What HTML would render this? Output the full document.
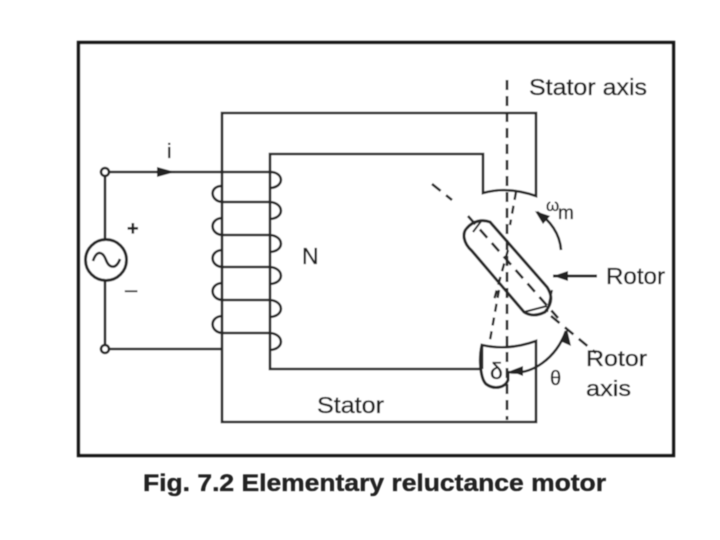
<!DOCTYPE html>
<html><head><meta charset="utf-8"><style>
html,body{margin:0;padding:0;background:#fff;width:720px;height:540px;overflow:hidden}
svg{display:block}
text{font-family:"Liberation Sans",Arial,sans-serif;fill:#222;stroke:#222;stroke-width:.35}
</style></head><body>
<svg width="720" height="540" viewBox="0 0 720 540" xmlns="http://www.w3.org/2000/svg">
<defs><filter id="b" filterUnits="userSpaceOnUse" x="0" y="0" width="720" height="540"><feGaussianBlur stdDeviation="0.6"/></filter></defs>
<rect width="720" height="540" fill="#fff"/>
<g filter="url(#b)">
<rect x="78.5" y="42.5" width="595" height="413" fill="#fff" stroke="#151515" stroke-width="3.4"/>
<g fill="none" stroke="#252525" stroke-width="2.6">
<!-- stator -->
<path d="M222 420V113H536V196Q508 186 483 193V154H270V369H482"/>
<path d="M222 420V422H536V341Q508 351 482 345V369" />
<!-- coil -->
<path d="M105 172H270C284 172 285 187 270 188"/>
<path d="M222 186C209 186 210 201 222 202H270C284 203 285 218 270 219"/>
<path d="M222 218C209 219 210 234 222 235H270C284 236 285 251 270 252"/>
<path d="M222 250C209 251 210 266 222 267H270C284 268 285 283 270 284"/>
<path d="M222 283C209 284 210 299 222 300H270C284 301 285 316 270 317"/>
<path d="M222 316C209 317 210 332 222 333H270C284 334 285 349 270 350"/>
<path d="M105 349H222"/>
<path d="M105 177V240M105 281V344"/>
<circle cx="105" cy="172" r="4" fill="#fff"/><circle cx="105" cy="349" r="4" fill="#fff"/>
<circle cx="106" cy="260" r="20.5" stroke-width="3"/>
<path d="M93 261C97 249 103 252 106 260C109 268 116 270 120 259" stroke-width="2.6"/>
<!-- rotor -->
<path d="M490 222L547 287C553 296 552 304 545 312C537 316 530 316 524 312L472 251C463 243 462 233 467 228C473 221 482 219 490 222Z" stroke-width="3"/>
<path d="M482 220L473 232M552 290L547 312M524 312L547 306" stroke-width="2"/>
<!-- pole shoe -->
<path d="M482 345C479 358 480 378 486 384C494 390 505 388 508 380V372" stroke-width="3"/>
<!-- axes -->
<path d="M507 80V420" stroke-dasharray="10 6" stroke-width="2.6"/>
<path d="M432 184L452 200M468 216L558 318M551 316L596 353" stroke-dasharray="11 7" stroke-width="2.6"/>
<path d="M516 192L510 225M508 250L494 300M499 290L490 340" stroke-dasharray="8 6" stroke-width="2.4"/>
<!-- arcs -->
<path d="M537 212C550 220 560 234 561 250" stroke-width="2.6"/>
<path d="M508 372C532 376 556 358 566 331" stroke-width="2.6"/>
<path d="M553 276H597" stroke-width="3"/>
</g>
<g fill="#222">
<path d="M535 211L550 216L543 224Z"/>
<path d="M553 276L568 271V281Z"/>
<path d="M567 329L571 346L560 341Z"/>
<path d="M510 371L523 366V376Z"/>
<path d="M175 172L157 167V177Z"/>
</g>
<g font-size="23">
<text x="529" y="95" font-size="23" textLength="118" lengthAdjust="spacingAndGlyphs">Stator axis</text>
<text x="606" y="284" font-size="23" textLength="59" lengthAdjust="spacingAndGlyphs">Rotor</text>
<text x="586" y="366" font-size="22" textLength="61" lengthAdjust="spacingAndGlyphs">Rotor</text>
<text x="586" y="396" font-size="22" textLength="45" lengthAdjust="spacingAndGlyphs">axis</text>
<text x="317" y="413" font-size="23" textLength="67" lengthAdjust="spacingAndGlyphs">Stator</text>
<text x="302" y="264" font-size="23">N</text>
<text x="167" y="158" font-size="20">i</text>
<text x="127" y="235" font-size="20" font-weight="bold">+</text>
<text x="125" y="297" font-size="22">–</text>
<text x="546" y="211" font-size="17">ω</text>
<text x="558" y="219" font-size="19">m</text>
<text x="490" y="379" font-size="23" font-family="Liberation Serif">δ</text>
<text x="550" y="385" font-size="20" font-family="Liberation Serif">θ</text>
<text x="143" y="491" font-size="24" font-weight="bold" textLength="463" lengthAdjust="spacingAndGlyphs">Fig. 7.2 Elementary reluctance motor</text>
</g>
</g>
</svg>
</body></html>
